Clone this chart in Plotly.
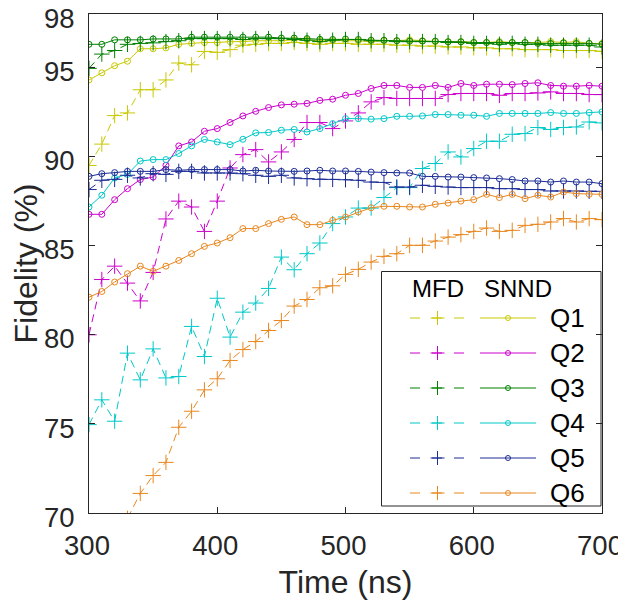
import plotly.graph_objects as go

# ---------------- data ----------------
time_ns = list(range(300, 701, 10))

qubits = ["Q1", "Q2", "Q3", "Q4", "Q5", "Q6"]
colors = ["#c8c800", "#cc00cc", "#008000", "#00c8c8", "#1c2d96", "#e8871e"]

mfd_q1 = [89.5, 90.7, 92.3, 92.45, 93.75, 93.75, 94.3, 95.25, 95.15, 95.9, 95.85,
          96.0, 96.25, 96.3, 96.35, 96.35, 96.4, 96.35, 96.3, 96.35, 96.35,
          96.3, 96.3, 96.3, 96.25, 96.25, 96.2, 96.2, 96.15, 96.15, 96.1,
          96.1, 96.05, 96.05, 96.0, 96.0, 96.0, 95.95, 95.95, 95.95, 95.9]
snnd_q1 = [94.3, 94.7, 95.1, 95.35, 96.05, 96.05, 96.1, 96.3, 96.35, 96.4, 96.4,
           96.45, 96.45, 96.5, 96.5, 96.5, 96.55, 96.55, 96.5, 96.5, 96.5,
           96.5, 96.45, 96.5, 96.5, 96.55, 96.5, 96.45, 96.45, 96.45, 96.4,
           96.4, 96.45, 96.4, 96.4, 96.4, 96.45, 96.4, 96.45, 96.35, 96.35]

mfd_q2 = [80.0, 83.1, 83.85, 82.9, 81.9, 83.5, 86.5, 87.5, 87.17, 85.8, 87.5,
          89.36, 90.11, 90.39, 89.7, 90.26, 90.96, 91.91, 91.91, 91.57, 92.0,
          92.45, 93.07, 93.31, 93.26, 93.26, 93.26, 93.26, 93.48, 93.54, 93.54,
          93.54, 93.44, 93.54, 93.54, 93.57, 93.63, 93.54, 93.54, 93.48, 93.48]
snnd_q2 = [86.76, 86.76, 87.58, 88.2, 88.71, 88.85, 89.51, 90.6, 90.82, 91.42, 91.57,
           91.91, 92.28, 92.54, 92.75, 92.9, 92.94, 92.98, 93.15, 93.22, 93.44,
           93.54, 93.82, 93.99, 93.99, 93.88, 93.88, 93.99, 93.88, 94.1, 93.99,
           94.06, 94.06, 94.04, 94.1, 94.14, 93.99, 93.95, 93.95, 93.99, 93.95]

mfd_q3 = [94.95, 95.75, 95.95, 96.3, 96.35, 96.38, 96.45, 96.5, 96.62, 96.62, 96.62,
          96.62, 96.57, 96.62, 96.62, 96.62, 96.57, 96.53, 96.45, 96.53, 96.57,
          96.57, 96.5, 96.5, 96.45, 96.45, 96.45, 96.45, 96.4, 96.4, 96.35,
          96.35, 96.3, 96.35, 96.3, 96.3, 96.25, 96.25, 96.25, 96.25, 96.15]
snnd_q3 = [96.3, 96.3, 96.55, 96.55, 96.55, 96.6, 96.6, 96.6, 96.7, 96.7, 96.7,
           96.7, 96.7, 96.7, 96.7, 96.65, 96.65, 96.62, 96.58, 96.57, 96.6,
           96.57, 96.53, 96.53, 96.5, 96.48, 96.48, 96.48, 96.44, 96.44, 96.4,
           96.4, 96.4, 96.4, 96.4, 96.35, 96.35, 96.38, 96.35, 96.35, 96.3]

mfd_q4 = [74.96, 76.35, 75.15, 78.97, 77.47, 79.21, 77.58, 77.66, 80.47, 78.78, 82.05,
          79.87, 81.27, 81.78, 82.6, 84.36, 83.65, 84.55, 85.15, 86.24, 86.61,
          87.11, 87.11, 87.7, 88.26, 88.26, 89.33, 89.61, 90.26, 89.98, 90.45,
          90.86, 90.86, 91.25, 91.29, 91.63, 91.52, 91.63, 91.66, 91.94, 91.89]
snnd_q4 = [87.17, 87.83, 88.8, 89.0, 89.75, 89.83, 89.83, 90.17, 90.6, 90.96, 90.82,
           90.67, 90.97, 91.33, 91.35, 91.48, 91.52, 91.38, 91.57, 91.85, 92.13,
           92.13, 92.1, 92.13, 92.26, 92.26, 92.28, 92.36, 92.36, 92.32, 92.32,
           92.26, 92.42, 92.42, 92.42, 92.42, 92.47, 92.42, 92.42, 92.47, 92.51]

mfd_q5 = [88.15, 88.67, 88.72, 88.95, 88.8, 89.04, 89.0, 89.17, 89.17, 89.08, 89.08,
          89.08, 89.04, 88.95, 88.89, 88.95, 88.8, 88.76, 88.72, 88.72, 88.7,
          88.67, 88.57, 88.55, 88.29, 88.29, 88.39, 88.33, 88.29, 88.26, 88.26,
          88.26, 88.2, 88.2, 88.15, 88.15, 88.07, 88.07, 88.07, 88.05, 88.05]
snnd_q5 = [88.89, 89.04, 89.1, 89.17, 89.17, 89.17, 89.27, 89.23, 89.27, 89.27, 89.27,
           89.27, 89.19, 89.23, 89.19, 89.17, 89.17, 89.19, 89.23, 89.19, 89.19,
           89.17, 89.13, 89.1, 89.08, 89.08, 88.89, 88.89, 88.85, 88.85, 88.82,
           88.8, 88.76, 88.71, 88.63, 88.63, 88.57, 88.63, 88.57, 88.57, 88.48]

mfd_q6 = [None, None, None, 69.7, 71.1, 72.1, 72.84, 74.81, 75.71, 76.91, 77.53,
          78.56, 79.17, 79.62, 80.24, 80.8, 81.61, 81.98, 82.64, 82.75, 83.39,
          83.67, 84.08, 84.4, 84.55, 85.02, 85.02, 85.26, 85.48, 85.62, 85.8,
          85.99, 85.8, 85.86, 86.14, 86.2, 86.33, 86.52, 86.33, 86.52, 86.46]
snnd_q6 = [82.11, 82.43, 82.96, 83.43, 83.85, 83.56, 83.85, 84.17, 84.55, 84.96, 85.15,
           85.45, 85.96, 85.96, 86.24, 86.48, 86.61, 86.18, 86.18, 86.42, 86.61,
           86.89, 87.13, 87.21, 87.21, 87.17, 87.17, 87.32, 87.39, 87.5, 87.58,
           87.88, 87.7, 87.88, 87.64, 87.83, 87.73, 88.01, 87.92, 87.88, 87.88]

mfd_series = [mfd_q1, mfd_q2, mfd_q3, mfd_q4, mfd_q5, mfd_q6]
snnd_series = [snnd_q1, snnd_q2, snnd_q3, snnd_q4, snnd_q5, snnd_q6]

x_ticks = [300, 400, 500, 600, 700]
y_ticks = [70, 75, 80, 85, 90, 95, 98]

# ---------------- figure ----------------
FONT = "Liberation Sans, Arial, Helvetica, sans-serif"
AX = "#262626"
PAGE_OFF = 8                     # default body margin of the html page
W, H = 626 - PAGE_OFF, 608 - PAGE_OFF
ML, MR, MT, MB = 81, 24, 6, 95   # plot area in page pixels: x 89..602, y 14..513

fig = go.Figure()

for name, c, m, s in zip(qubits, colors, mfd_series, snnd_series):
    fig.add_trace(go.Scatter(
        x=time_ns, y=m, mode="lines+markers", name=name + " MFD",
        line=dict(color=c, width=1, dash="8px,5px"),
        marker=dict(symbol="cross-thin", size=11, color=c, line=dict(color=c, width=1)),
        showlegend=False))
    fig.add_trace(go.Scatter(
        x=time_ns, y=s, mode="lines+markers", name=name + " SNND",
        line=dict(color=c, width=1),
        marker=dict(symbol="circle-open", size=6, color=c, line=dict(color=c, width=1)),
        showlegend=False))

# ---------- custom two-column legend drawn on a pixel overlay axis (page px) ----------
px_x = [PAGE_OFF + ML, PAGE_OFF + W - MR]
px_y = [PAGE_OFF + H - MB, PAGE_OFF + MT]
box = dict(x0=381.5, x1=601, y0=271.5, y1=506)
row0, row_step = 318, 35
mfd_seg = (410, 465)
snnd_seg = (480, 536)
label_x = 548

fig.add_shape(type="rect", xref="x2", yref="y2", layer="below",
              line=dict(color=AX, width=1), fillcolor="white", **box)

for i, (name, c) in enumerate(zip(qubits, colors)):
    yy = row0 + i * row_step
    fig.add_trace(go.Scatter(x=list(mfd_seg), y=[yy, yy], xaxis="x2", yaxis="y2",
                             mode="lines", line=dict(color=c, width=1, dash="10px,12px"),
                             showlegend=False, hoverinfo="skip"))
    fig.add_trace(go.Scatter(x=[sum(mfd_seg) / 2], y=[yy], xaxis="x2", yaxis="y2",
                             mode="markers",
                             marker=dict(symbol="cross-thin", size=10, color=c,
                                         line=dict(color=c, width=1)),
                             showlegend=False, hoverinfo="skip"))
    fig.add_trace(go.Scatter(x=list(snnd_seg), y=[yy, yy], xaxis="x2", yaxis="y2",
                             mode="lines", line=dict(color=c, width=1),
                             showlegend=False, hoverinfo="skip"))
    fig.add_trace(go.Scatter(x=[sum(snnd_seg) / 2], y=[yy], xaxis="x2", yaxis="y2",
                             mode="markers",
                             marker=dict(symbol="circle-open", size=5, color=c,
                                         line=dict(color=c, width=1)),
                             showlegend=False, hoverinfo="skip"))
    fig.add_annotation(x=label_x, y=yy, xref="x2", yref="y2", text=name,
                       showarrow=False, xanchor="left", yanchor="middle",
                       font=dict(family=FONT, size=26, color="black"))

for txt, cx in [("MFD", 437.5), ("SNND", 518)]:
    fig.add_annotation(x=cx, y=288, xref="x2", yref="y2", text=txt,
                       showarrow=False, xanchor="center", yanchor="middle",
                       font=dict(family=FONT, size=24, color="black"))

axis_common = dict(showline=True, linecolor=AX, linewidth=1, mirror="ticks",
                   ticks="inside", ticklen=6, tickwidth=1, tickcolor=AX,
                   showgrid=False, zeroline=False, automargin=False,
                   ticklabeloverflow="allow",
                   tickfont=dict(family=FONT, size=27.5, color=AX))

fig.update_layout(
    template="none",
    width=W, height=H,
    margin=dict(l=ML, r=MR, t=MT, b=MB, pad=0, autoexpand=False),
    paper_bgcolor="white", plot_bgcolor="white",
    xaxis=dict(range=[300, 700], tickvals=x_ticks, ticklabelstandoff=8, ticklabelshift=-2,
               title=dict(text="Time (ns)", font=dict(family=FONT, size=32, color=AX), standoff=10),
               **axis_common),
    yaxis=dict(range=[70, 98], tickvals=y_ticks, ticklabelstandoff=8, ticklabelshift=4,
               title=dict(text="Fidelity (%)", font=dict(family=FONT, size=32, color=AX), standoff=4),
               **axis_common),
    xaxis2=dict(overlaying="x", range=px_x, visible=False, fixedrange=True),
    yaxis2=dict(overlaying="y", range=px_y, visible=False, fixedrange=True),
    showlegend=False,
)

fig.write_html("out.html")
